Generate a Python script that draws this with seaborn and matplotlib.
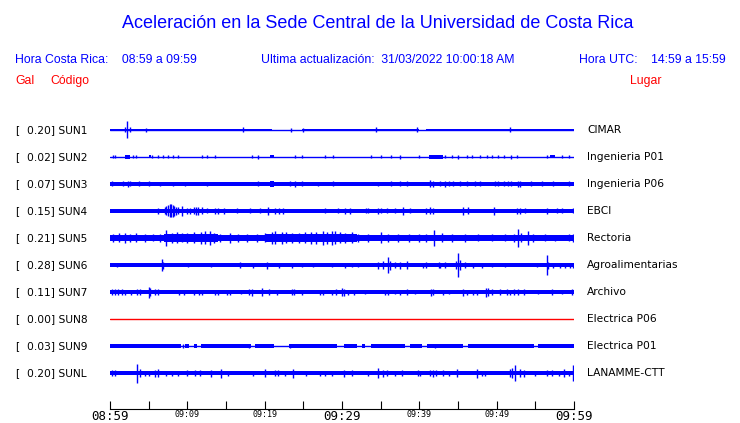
import matplotlib
matplotlib.use("Agg")
import matplotlib.pyplot as plt
import seaborn as sns

# --- data (minutes after 08:59, half-amplitude in row px) ---
stations = ["SUN1", "SUN2", "SUN3", "SUN4", "SUN5", "SUN6", "SUN7", "SUN8", "SUN9", "SUNL"]
peak_gal = ["0.20", "0.02", "0.07", "0.15", "0.21", "0.28", "0.11", "0.00", "0.03", "0.20"]
places = ["CIMAR", "Ingenieria P01", "Ingenieria P06", "EBCI", "Rectoria",
          "Agroalimentarias", "Archivo", "Electrica P06", "Electrica P01", "LANAMME-CTT"]
tick_minutes = [0, 10, 20, 30, 40, 50, 60]
tick_labels = ["08:59", "09:09", "09:19", "09:29", "09:39", "09:49", "09:59"]
minor_minutes = [5, 15, 25, 35, 45, 55]

# bands: (start, end, half width)
band_sun1 = [(0, 20.9, 1.3), (24.8, 40.0, 1.3), (40.9, 60, 1.3)]
band_sun2 = [(2.0, 2.6, 1.7), (5.0, 5.3, 1.5), (20.7, 21.2, 1.5), (41.2, 43.1, 1.6), (56.9, 57.5, 1.5)]
band_sun3 = [(0, 60, 1.8), (20.7, 21.2, 2.8)]
band_sun4 = [(0, 60, 1.9)]
band_sun5 = [(0, 7, 3.0), (7, 14, 3.6), (14, 20, 3.0), (20, 32, 3.8), (32, 52, 3.0), (52, 60, 2.6)]
band_sun6 = [(0, 60, 1.9)]
band_sun7 = [(0, 60, 1.9)]
band_sun8 = []
band_sun9 = [(0, 9.2, 1.6), (9.7, 10.2, 1.6), (10.8, 11.2, 1.6), (11.8, 18.2, 1.6), (18.8, 21.2, 1.6),
             (23.2, 29.3, 1.6), (30.3, 32.0, 1.6), (32.6, 33.0, 1.6), (33.8, 38.1, 1.6),
             (38.8, 40.4, 1.6), (41.0, 45.7, 1.6), (46.3, 54.8, 1.6), (55.4, 60, 1.6)]
band_sunl = [(0, 60, 2.0)]

# spikes: (minute, half amplitude)
spk_sun1 = [(1.9, 2.5), (2.2, 8.5), (2.6, 2.5), (4.6, 2.0), (17.2, 2.5), (23.4, 1.8), (25.0, 1.8),
            (34.4, 2.5), (39.7, 2.5), (51.7, 2.5)]
spk_sun2 = [(0.4, 1.5), (0.7, 1.5), (3.0, 1.5), (3.4, 1.5), (5.4, 1.5), (6.2, 1.5), (6.9, 1.5),
            (7.5, 1.5), (8.2, 1.5), (8.8, 1.5), (11.9, 1.5), (12.5, 1.5), (13.6, 1.5), (18.3, 1.5),
            (19.2, 1.8), (23.9, 1.5), (24.8, 1.5), (27.8, 1.5), (28.9, 1.5), (33.8, 1.5), (35.1, 1.5),
            (36.4, 1.5), (37.5, 1.8), (39.9, 1.5), (43.3, 1.5), (44.2, 1.5), (45.0, 1.8), (46.1, 1.5),
            (46.8, 1.5), (47.8, 1.5), (48.7, 1.5), (49.4, 1.5), (50.2, 1.5), (50.9, 1.5), (51.9, 1.8),
            (52.6, 1.5), (56.5, 1.5), (58.4, 1.5), (59.3, 1.5)]
spk_sun3 = [(0.2, 2.5), (1.7, 2.5), (2.3, 2.8), (2.6, 2.5), (3.7, 2.5), (5.0, 2.5), (6.5, 2.3),
            (8.2, 2.3), (9.7, 2.3), (12.5, 2.3), (19.2, 2.5), (23.3, 2.5), (23.9, 2.8), (24.8, 2.5),
            (26.9, 2.3), (28.9, 2.5), (34.7, 2.3), (36.4, 2.5), (37.5, 2.5), (38.4, 2.5), (41.4, 3.5),
            (41.8, 3.0), (42.7, 2.5), (43.3, 2.8), (43.8, 2.5), (44.4, 2.5), (45.3, 2.5), (46.1, 2.5),
            (47.2, 2.5), (47.8, 2.5), (49.8, 2.5), (50.2, 2.5), (50.9, 2.5), (51.5, 2.5), (51.9, 2.5),
            (52.8, 3.0), (53.0, 3.0), (54.5, 2.5), (55.8, 2.5), (57.3, 2.5), (59.3, 2.5)]
spk_sun4 = [(6.25, 3.0), (7.1, 3.5), (7.3, 4.5), (7.5, 5.5), (7.7, 6.5), (7.9, 6.5), (8.1, 6.0),
            (8.3, 5.0), (8.5, 4.0), (8.8, 3.5), (9.3, 5.0), (9.9, 3.0), (10.3, 3.0), (10.8, 3.5),
            (11.1, 4.0), (11.4, 4.0), (11.9, 3.5), (12.5, 2.5), (13.6, 3.0), (14.0, 3.0), (14.7, 3.0),
            (16.4, 2.5), (18.1, 2.5), (19.4, 2.5), (20.4, 4.0), (21.3, 3.0), (21.8, 3.0), (22.4, 3.0),
            (27.8, 2.5), (29.5, 2.5), (30.4, 3.0), (31.0, 3.0), (33.1, 2.5), (33.4, 2.5), (34.7, 3.0),
            (35.1, 2.5), (35.8, 2.5), (36.9, 2.5), (37.9, 4.0), (38.8, 2.5), (40.9, 3.0), (41.4, 3.5),
            (41.8, 3.0), (45.7, 4.0), (46.3, 3.5), (49.6, 4.0), (52.6, 3.0), (53.0, 3.0), (53.7, 2.5),
            (56.5, 3.0), (57.8, 2.5), (58.4, 2.5), (59.9, 2.5)]
spk_sun5 = [(0.4, 4.0), (1.1, 4.5), (2.0, 5.0), (2.6, 4.0), (3.4, 4.5), (4.5, 4.0), (5.6, 3.5),
            (6.5, 4.0), (7.3, 8.0), (8.0, 5.0), (8.6, 5.5), (9.3, 4.5), (9.9, 5.0), (10.8, 5.5),
            (11.8, 6.0), (12.3, 6.5), (12.9, 7.0), (13.4, 5.0), (14.2, 4.0), (15.5, 5.0), (16.6, 4.0),
            (17.7, 4.0), (19.0, 4.0), (20.0, 4.5), (20.9, 6.0), (21.3, 6.5), (22.2, 6.0), (22.8, 5.5),
            (23.5, 5.0), (24.4, 5.0), (25.2, 5.5), (26.0, 6.0), (26.7, 6.0), (27.6, 7.0), (28.0, 6.0),
            (28.7, 7.0), (29.1, 6.5), (29.7, 5.5), (30.4, 5.0), (31.3, 5.5), (32.1, 4.0), (33.4, 4.0),
            (35.0, 5.5), (36.0, 4.0), (37.3, 4.0), (38.6, 4.0), (39.9, 4.0), (40.9, 4.0), (41.9, 8.0),
            (42.9, 4.5), (44.2, 4.0), (45.9, 4.0), (47.6, 3.5), (49.4, 3.5), (51.1, 3.5), (52.2, 4.0),
            (52.8, 9.0), (53.2, 4.5), (54.1, 7.0), (54.7, 4.0), (56.3, 3.5), (57.5, 3.0), (59.3, 3.5),
            (59.9, 4.0)]
spk_sun6 = [(0.9, 2.2), (6.7, 6.0), (6.9, 3.5), (10.1, 2.0), (13.1, 1.8), (16.8, 3.0), (18.5, 2.5),
            (20.3, 3.5), (21.8, 2.5), (23.5, 2.5), (24.8, 2.0), (26.3, 2.0), (28.7, 2.0), (30.4, 2.5),
            (31.3, 2.0), (32.1, 2.0), (34.7, 3.5), (35.3, 4.0), (36.0, 8.0), (36.2, 4.5), (36.9, 3.0),
            (37.5, 3.5), (38.4, 4.0), (40.5, 2.5), (40.9, 3.0), (42.5, 3.0), (42.7, 2.5), (43.3, 3.0),
            (44.8, 4.0), (45.0, 12.0), (45.3, 5.0), (45.9, 3.0), (47.0, 2.5), (48.1, 2.5), (49.4, 2.0),
            (51.1, 2.0), (55.2, 2.0), (56.5, 10.0), (56.7, 3.5), (57.3, 2.5), (58.2, 2.5), (58.8, 2.5),
            (59.5, 2.5), (59.9, 2.5)]
spk_sun7 = [(0.3, 3.0), (0.6, 3.0), (1.0, 3.0), (1.5, 3.0), (2.0, 2.5), (2.7, 2.5), (3.5, 3.0),
            (3.9, 3.0), (5.0, 5.5), (5.2, 4.0), (5.8, 3.0), (6.2, 3.0), (8.9, 2.5), (9.6, 2.5),
            (10.8, 2.5), (11.5, 2.5), (11.9, 2.5), (13.6, 2.5), (14.0, 2.5), (15.1, 2.5), (15.5, 2.5),
            (17.0, 2.0), (18.0, 3.0), (18.3, 3.5), (19.6, 4.0), (20.5, 3.0), (21.6, 2.5), (23.5, 3.0),
            (23.8, 3.0), (24.8, 2.5), (27.2, 2.5), (27.6, 2.5), (28.7, 2.5), (29.2, 3.0), (30.0, 4.0),
            (30.2, 3.5), (30.8, 2.5), (31.5, 2.5), (33.0, 2.0), (35.6, 2.5), (35.9, 2.5), (36.9, 2.0),
            (37.5, 2.5), (38.4, 3.0), (39.4, 2.0), (41.5, 3.5), (41.8, 3.0), (43.1, 2.5), (43.8, 2.0),
            (45.7, 3.5), (46.1, 2.5), (47.0, 2.5), (47.5, 2.5), (48.6, 4.5), (48.9, 4.0), (49.4, 3.0),
            (50.4, 3.0), (51.3, 3.0), (51.7, 2.5), (52.2, 3.0), (52.8, 3.0), (53.5, 3.0), (55.4, 2.0),
            (57.1, 3.0), (58.4, 2.0), (59.7, 3.0)]
spk_sun8 = []
spk_sun9 = [(9.5, 1.8), (18.0, 1.8), (23.3, 1.8), (42.0, 1.8)]
spk_sunl = [(0.2, 3.0), (0.6, 3.0), (3.5, 9.5), (3.9, 4.0), (4.5, 2.5), (5.1, 2.5), (5.8, 3.5),
            (6.2, 4.0), (7.2, 2.5), (8.0, 2.5), (8.8, 2.5), (9.9, 3.0), (11.0, 3.0), (11.6, 3.0),
            (13.1, 3.5), (14.4, 4.5), (15.3, 2.5), (18.5, 2.5), (20.0, 4.0), (21.3, 3.0), (21.7, 3.0),
            (22.6, 2.5), (23.6, 4.5), (25.4, 2.5), (27.2, 2.5), (27.8, 2.5), (28.7, 2.5), (30.3, 3.5),
            (31.3, 3.0), (33.4, 2.5), (34.6, 5.0), (35.3, 3.5), (35.8, 3.0), (36.9, 2.5), (37.7, 3.0),
            (39.8, 3.0), (40.1, 2.5), (41.4, 3.0), (41.8, 3.5), (42.2, 3.0), (43.1, 3.0), (43.8, 2.5),
            (44.9, 4.0), (47.5, 4.5), (48.1, 2.5), (48.5, 2.5), (51.7, 4.0), (52.0, 5.0), (52.4, 8.0),
            (53.0, 4.0), (53.5, 3.5), (54.9, 2.5), (56.5, 3.0), (57.1, 3.0), (58.0, 2.5), (58.7, 4.0),
            (59.3, 2.5), (59.9, 8.0)]

bands = [band_sun1, band_sun2, band_sun3, band_sun4, band_sun5,
         band_sun6, band_sun7, band_sun8, band_sun9, band_sunl]
spikes = [spk_sun1, spk_sun2, spk_sun3, spk_sun4, spk_sun5,
          spk_sun6, spk_sun7, spk_sun8, spk_sun9, spk_sunl]

BLUE = "#0000ff"
RED = "#ff0000"
ROW = 27  # vertical spacing between traces

sns.set_style("white")
W, H = 740, 423
fig = plt.figure(figsize=(W / 100, H / 100), dpi=100)
ax = fig.add_axes([110 / W, 1 - 409 / H, 464 / W, (409 - 116) / H])

for i, st in enumerate(stations):
    off = i * ROW
    color = RED if st == "SUN8" else BLUE
    sns.lineplot(x=[0, 60], y=[off, off], ax=ax, color=color, lw=1.0)
    for s, e, h in bands[i]:
        ax.fill_between([s, e], [off - h] * 2, [off + h] * 2, color=color, lw=0)
    if spikes[i]:
        xs = [m for m, a in spikes[i]]
        amps = [a for m, a in spikes[i]]
        ax.vlines(xs, [off - a for a in amps], [off + a for a in amps], color=color, lw=1.0)

ax.set_xlim(0, 60)
ax.set_ylim(279, -14)
ax.set_yticks([])
for side in ["top", "left", "right"]:
    ax.spines[side].set_visible(False)
ax.spines["bottom"].set_color("black")
ax.spines["bottom"].set_linewidth(0.8)
ax.set_xticks(tick_minutes)
ax.set_xticks(minor_minutes, minor=True)
ax.set_xticklabels(tick_labels, family="DejaVu Sans Mono", color="black")
ax.tick_params(axis="x", which="both", bottom=True, direction="in", length=6, width=0.8,
               color="black", pad=1, labelcolor="black")
for lab in ax.get_xticklabels():
    big = lab.get_text() in ("08:59", "09:29", "09:59")
    lab.set_fontsize(9 if big else 6)
ax.set_xlabel("")
ax.set_ylabel("")

# left / right trace labels
for i, st in enumerate(stations):
    y = 1 - (130 + i * ROW) / H
    fig.text(15 / W, y, "[", fontsize=7.7, va="center", ha="left", family="DejaVu Sans", color="black")
    fig.text(27 / W, y, f"{peak_gal[i]}] {st}", fontsize=7.7, va="center", ha="left",
             family="DejaVu Sans", color="black")
    fig.text(587 / W, y, places[i], fontsize=7.7, va="center", ha="left", family="DejaVu Sans",
             color="black")

# header
hfont = "Liberation Sans"
fig.text(378 / W, 1 - 23 / H, "Aceleración en la Sede Central de la Universidad de Costa Rica",
         fontsize=13, color=BLUE, ha="center", va="center", family=hfont)
fig.text(15 / W, 1 - 60 / H, "Hora Costa Rica:    08:59 a 09:59", fontsize=8.8, color=BLUE,
         ha="left", va="center", family=hfont)
fig.text(261 / W, 1 - 60 / H, "Ultima actualización:  31/03/2022 10:00:18 AM", fontsize=8.8,
         color=BLUE, ha="left", va="center", family=hfont)
fig.text(726 / W, 1 - 60 / H, "Hora UTC:    14:59 a 15:59", fontsize=8.8, color=BLUE,
         ha="right", va="center", family=hfont)
fig.text(15 / W, 1 - 81 / H, "Gal", fontsize=8.8, color=RED, ha="left", va="center", family=hfont)
fig.text(50 / W, 1 - 81 / H, "Código", fontsize=8.8, color=RED, ha="left", va="center", family=hfont)
fig.text(630 / W, 1 - 81 / H, "Lugar", fontsize=8.8, color=RED, ha="left", va="center", family=hfont)

fig.savefig("out.png", dpi=100)
